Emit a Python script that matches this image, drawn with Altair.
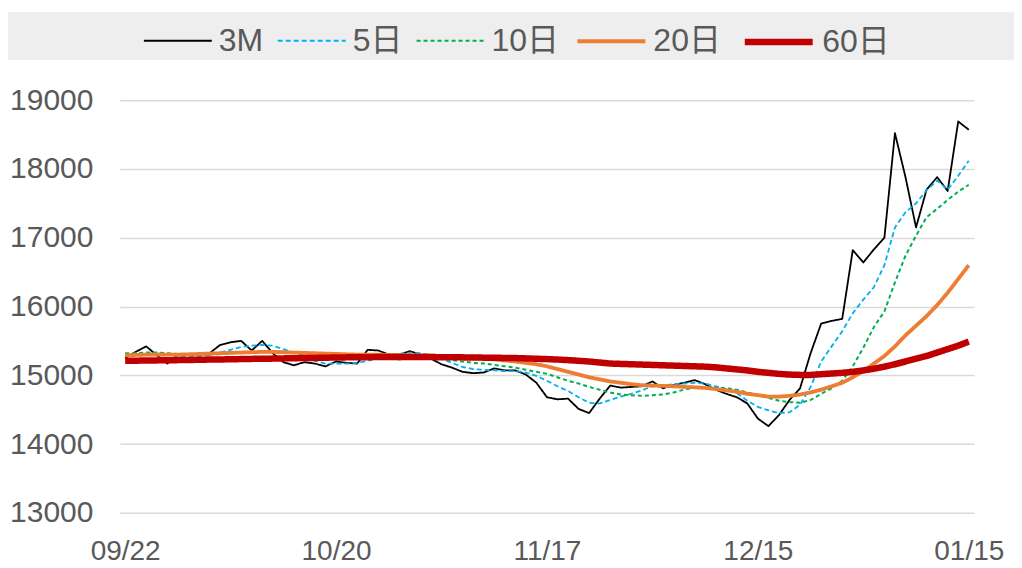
import altair as alt
import pandas as pd

series_names = ["3M", "5日", "10日", "20日", "60日"]
colors = ["#000000", "#00B0F0", "#00B050", "#ED7D31", "#C00000"]
dashes = [[1, 0], [5, 3], [4, 3], [1, 0], [1, 0]]
widths = [1.8, 1.8, 2.0, 3.8, 6.5]
tick_positions = [0, 20, 40, 60, 80]
tick_labels = ["09/22", "10/20", "11/17", "12/15", "01/15"]
y_ticks = [13000, 14000, 15000, 16000, 17000, 18000, 19000]

s3m = [15250, 15340, 15420, 15290, 15170, 15300, 15300, 15310, 15320, 15440,
       15480, 15500, 15360, 15500, 15320, 15190, 15145, 15190, 15170, 15130,
       15200, 15180, 15170, 15370, 15360, 15300, 15300, 15350, 15300, 15240,
       15160, 15110, 15050, 15030, 15040, 15100, 15070, 15070, 15010, 14890,
       14680, 14650, 14660, 14510, 14450, 14660, 14850, 14820, 14830, 14840,
       14910, 14810, 14860, 14890, 14930, 14870, 14790, 14730, 14680, 14590,
       14370, 14260, 14420, 14640, 14810, 15320, 15750, 15790, 15820, 16820,
       16640, 16830, 17000, 18520, 17880, 17150, 17700, 17880, 17680, 18690,
       18570]

ma5 = [15290, 15300, 15310, 15320, 15300, 15280, 15280, 15280, 15290, 15330,
       15370, 15410, 15430, 15440, 15430, 15380, 15330, 15270, 15210, 15170,
       15170, 15170, 15180, 15210, 15250, 15280, 15310, 15330, 15320, 15290,
       15240, 15180, 15120, 15090, 15080, 15070, 15060, 15060, 15040, 14990,
       14920, 14840, 14770, 14680, 14600, 14590, 14640, 14690, 14730, 14780,
       14840, 14850, 14870, 14880, 14890, 14880, 14840, 14800, 14740, 14630,
       14540, 14490, 14450, 14460, 14570, 14830, 15200, 15420, 15640, 15900,
       16100, 16280, 16600, 17150, 17370, 17500, 17690, 17830, 17700, 17900,
       18120]

ma10 = [15320, 15320, 15330, 15330, 15320, 15310, 15300, 15300, 15300, 15310,
        15320, 15330, 15340, 15350, 15350, 15340, 15330, 15320, 15310, 15300,
        15290, 15280, 15270, 15260, 15250, 15240, 15230, 15240, 15260, 15260,
        15240, 15220, 15200, 15180, 15170, 15150, 15130, 15110, 15080, 15050,
        15020, 14970, 14920, 14880, 14830, 14790, 14750, 14720, 14710, 14700,
        14710, 14720, 14750, 14790, 14820, 14830, 14820, 14810, 14790, 14750,
        14710, 14670, 14630, 14610, 14600, 14640, 14730, 14810, 14920, 15130,
        15400, 15700, 15930, 16350, 16740, 17030, 17300, 17420, 17550, 17670,
        17770]

ma20 = [15290, 15295, 15300, 15300, 15300, 15300, 15305, 15310, 15315, 15320,
        15325, 15330, 15335, 15340, 15340, 15335, 15330, 15325, 15320, 15315,
        15310, 15305, 15300, 15300, 15300, 15295, 15290, 15290, 15290, 15285,
        15280, 15270, 15260, 15250, 15240, 15230, 15215, 15200, 15180, 15160,
        15130, 15090, 15050, 15010, 14970, 14940, 14910, 14890, 14870, 14855,
        14850, 14845, 14840, 14830, 14825, 14815, 14800, 14780, 14760, 14730,
        14710, 14690, 14690, 14700, 14720, 14750, 14790, 14840, 14890, 14970,
        15060, 15170, 15280, 15420, 15580, 15720, 15860, 16020, 16200, 16400,
        16600]

ma60 = [15210, 15212, 15214, 15216, 15218, 15220, 15222, 15225, 15228, 15230,
        15232, 15235, 15238, 15240, 15242, 15245, 15248, 15250, 15252, 15255,
        15258, 15260, 15262, 15263, 15264, 15265, 15265, 15265, 15265, 15264,
        15263, 15262, 15260, 15258, 15256, 15254, 15252, 15250, 15245, 15240,
        15235, 15228, 15220, 15210, 15200, 15185, 15170, 15165, 15160, 15155,
        15150, 15145, 15140, 15135, 15130, 15125, 15115, 15100, 15085, 15070,
        15050, 15035, 15020, 15010, 15005, 15005, 15015, 15025, 15035, 15050,
        15070, 15095, 15125, 15160, 15200, 15240, 15280, 15330, 15380, 15430,
        15490]

all_series = [s3m, ma5, ma10, ma20, ma60]
rows = []
for k, (name, vals) in enumerate(zip(series_names, all_series)):
    for i, v in enumerate(vals):
        rows.append({"idx": i, "value": v, "series": name, "k": k})
df = pd.DataFrame(rows)

FONT = "Liberation Sans, Arial, Noto Sans CJK SC"
label_expr = "[" + ",".join("'%s'" % t for t in tick_labels) + "][round(datum.value/20)]"

legend = alt.Legend(
    title=None, orient="none", legendX=23, legendY=-96, direction="horizontal",
    symbolType="stroke", symbolSize=4624, labelFontSize=32, labelColor="#595959",
    labelFont=FONT, labelOffset=6, columnPadding=10, padding=0,
)

band = alt.Chart(pd.DataFrame({"a": [0]})).mark_rect(color="#EEEEEE").encode(
    x=alt.value(-112), x2=alt.value(895), y=alt.value(-88), y2=alt.value(-40)
)

x_enc = alt.X("idx:Q", scale=alt.Scale(domain=[-0.5, 80.5], nice=False, zero=False),
              axis=alt.Axis(values=tick_positions, labelExpr=label_expr, title=None,
                            grid=False, ticks=False, domain=False, labelFontSize=28,
                            labelColor="#595959", labelFont=FONT, labelPadding=25))
y_enc = alt.Y("value:Q", scale=alt.Scale(domain=[13000, 19000], nice=False, zero=False),
              axis=alt.Axis(values=y_ticks, format="d", title=None, grid=True,
                            gridColor="#D9D9D9", gridWidth=1.5, ticks=False, domain=False,
                            labelFontSize=30, labelColor="#595959", labelFont=FONT,
                            labelPadding=27))
color_enc = alt.Color("series:N", scale=alt.Scale(domain=series_names, range=colors), legend=legend)
dash_enc = alt.StrokeDash("series:N", scale=alt.Scale(domain=series_names, range=dashes), legend=legend)
width_enc = alt.StrokeWidth("series:N", scale=alt.Scale(type="ordinal", domain=series_names, range=widths), legend=legend)

layers = [band]
for name in series_names:
    layers.append(
        alt.Chart(df).transform_filter(alt.datum.series == name)
        .mark_line(clip=False, strokeJoin="round", strokeCap="butt")
        .encode(x=x_enc, y=y_enc, color=color_enc, strokeDash=dash_enc,
                strokeWidth=width_enc, order="idx:Q")
    )

chart = alt.layer(*layers).properties(
    width=855, height=413,
    autosize=alt.AutoSizeParams(type="none"),
    padding={"left": 112, "top": 92, "right": 40, "bottom": 56},
    background="white",
).configure_view(stroke=None)

chart.save("out.html", embed_options={"renderer": "svg", "actions": False})
